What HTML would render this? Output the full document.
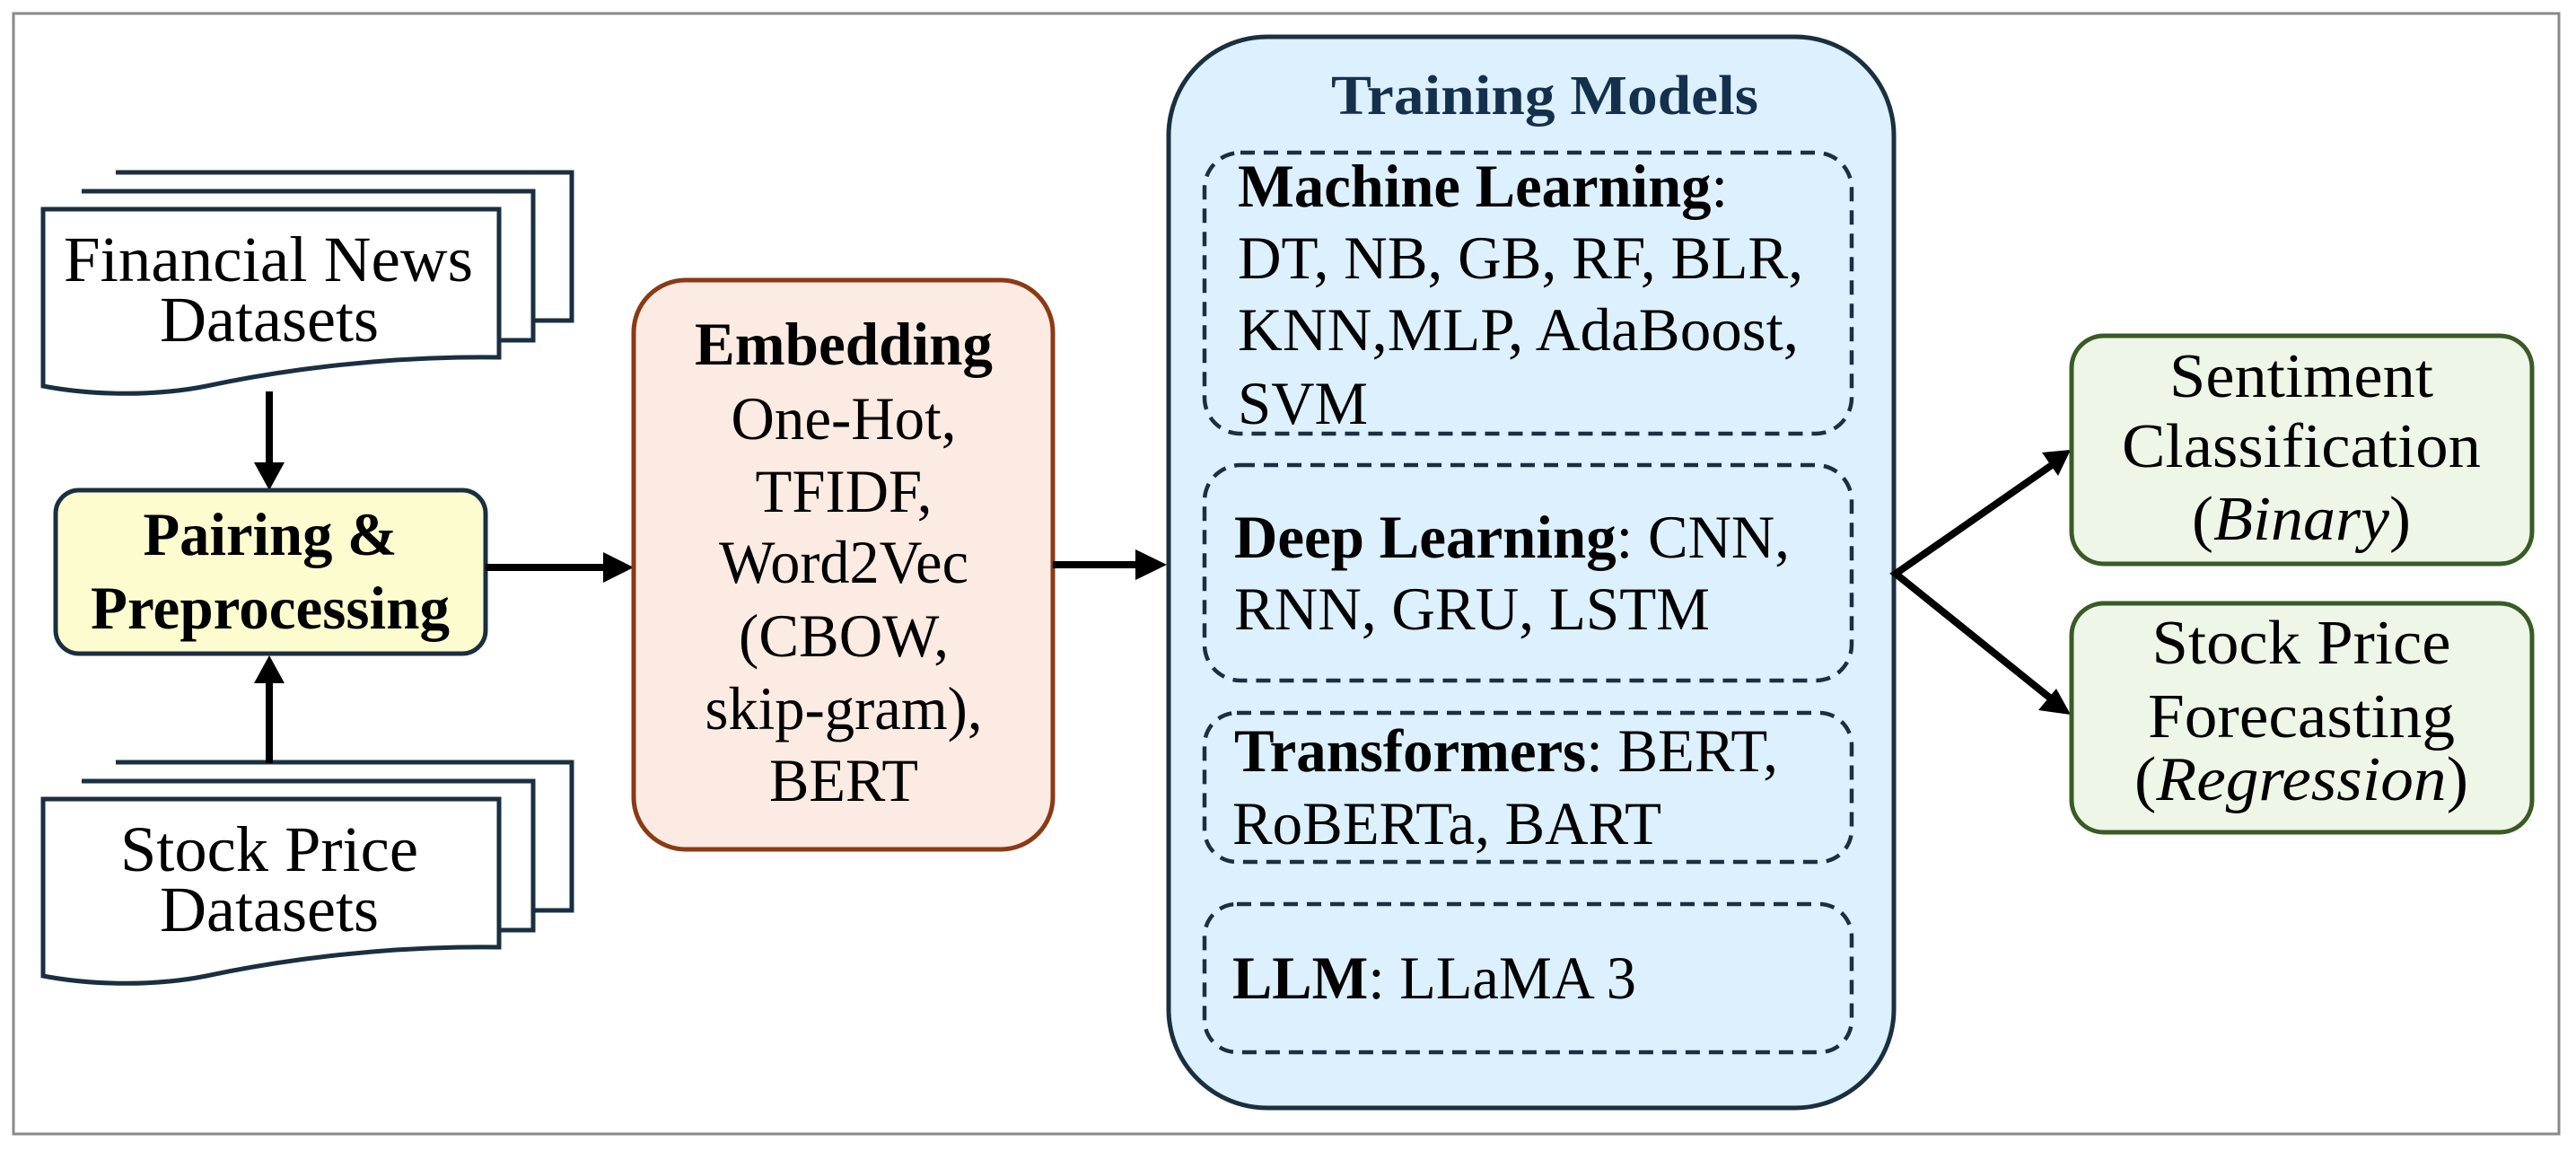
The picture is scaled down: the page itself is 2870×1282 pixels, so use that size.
<!DOCTYPE html>
<html><head><meta charset="utf-8"><style>
html,body{margin:0;padding:0;background:#fff;}
svg{display:block;}
text{font-family:"Liberation Serif",serif;fill:#000;}
</style></head><body>
<svg width="2870" height="1282" viewBox="0 0 2870 1282" xmlns="http://www.w3.org/2000/svg">
<rect x="15" y="15" width="2836" height="1248" fill="#fff" stroke="#8a8a8a" stroke-width="3"/>

<!-- Financial News docs -->
<g stroke="#1a2f40" stroke-width="5" fill="#fff">
<path d="M129 192 H637 V357 H594"/>
<path d="M91 213 H594 V379 H556"/>
<path d="M48 233 H556 V398 C420 396 300 415 230 430 C170 442 100 440 48 430 Z"/>
</g>
<text x="299" y="313" font-size="72" text-anchor="middle" textLength="456" lengthAdjust="spacingAndGlyphs">Financial News</text>
<text x="300" y="380" font-size="72" text-anchor="middle" textLength="244" lengthAdjust="spacingAndGlyphs">Datasets</text>

<!-- Stock Price docs -->
<g stroke="#1a2f40" stroke-width="5" fill="#fff" transform="translate(0,657)">
<path d="M129 192 H637 V357 H594"/>
<path d="M91 213 H594 V379 H556"/>
<path d="M48 233 H556 V398 C420 396 300 415 230 430 C170 442 100 440 48 430 Z"/>
</g>
<text x="300" y="970" font-size="72" text-anchor="middle" textLength="332" lengthAdjust="spacingAndGlyphs">Stock Price</text>
<text x="300" y="1037" font-size="72" text-anchor="middle" textLength="244" lengthAdjust="spacingAndGlyphs">Datasets</text>

<!-- vertical arrows -->
<line x1="300" y1="436" x2="300" y2="518" stroke="#000" stroke-width="8"/>
<polygon points="283,515 317,515 300,546" fill="#000"/>
<line x1="300" y1="850" x2="300" y2="758" stroke="#000" stroke-width="8"/>
<polygon points="283,761 317,761 300,730" fill="#000"/>

<!-- Pairing -->
<rect x="62" y="546" width="479" height="182" rx="26" fill="#fdfccf" stroke="#1a2f40" stroke-width="5"/>
<text x="301" y="618" font-size="68" font-weight="bold" text-anchor="middle" textLength="283" lengthAdjust="spacingAndGlyphs">Pairing &amp;</text>
<text x="301" y="700" font-size="68" font-weight="bold" text-anchor="middle" textLength="400" lengthAdjust="spacingAndGlyphs">Preprocessing</text>

<!-- arrow pairing -> embedding -->
<line x1="541" y1="632" x2="676" y2="632" stroke="#000" stroke-width="8"/>
<polygon points="672,615 672,649 706,632" fill="#000"/>

<!-- Embedding -->
<rect x="706" y="312" width="467" height="634" rx="58" fill="#fbebe2" stroke="#8a3a14" stroke-width="5"/>
<text x="940" y="406" font-size="68" font-weight="bold" text-anchor="middle" textLength="332" lengthAdjust="spacingAndGlyphs">Embedding</text>
<text x="940" y="489" font-size="68" text-anchor="middle" textLength="251" lengthAdjust="spacingAndGlyphs">One-Hot,</text>
<text x="940" y="570" font-size="68" text-anchor="middle" textLength="197" lengthAdjust="spacingAndGlyphs">TFIDF,</text>
<text x="940" y="649" font-size="68" text-anchor="middle" textLength="278" lengthAdjust="spacingAndGlyphs">Word2Vec</text>
<text x="940" y="731" font-size="68" text-anchor="middle" textLength="234" lengthAdjust="spacingAndGlyphs">(CBOW,</text>
<text x="940" y="812" font-size="68" text-anchor="middle" textLength="309" lengthAdjust="spacingAndGlyphs">skip-gram),</text>
<text x="940" y="892" font-size="68" text-anchor="middle" textLength="166" lengthAdjust="spacingAndGlyphs">BERT</text>

<!-- arrow embedding -> training -->
<line x1="1173" y1="629" x2="1268" y2="629" stroke="#000" stroke-width="8"/>
<polygon points="1265,612 1265,646 1300,629" fill="#000"/>

<!-- Training Models -->
<rect x="1302" y="41" width="808" height="1193" rx="110" fill="#dcf0fd" stroke="#1a2f40" stroke-width="5"/>
<text x="1721" y="127" font-size="62" font-weight="bold" text-anchor="middle" style="fill:#14304d" textLength="476" lengthAdjust="spacingAndGlyphs">Training Models</text>

<g fill="none" stroke="#1a2f40" stroke-width="4.5" stroke-dasharray="16 10">
<rect x="1342" y="170" width="721" height="313" rx="40"/>
<rect x="1342" y="518" width="721" height="240" rx="40"/>
<rect x="1342" y="794" width="721" height="166" rx="36"/>
<rect x="1342" y="1007" width="721" height="165" rx="36"/>
</g>

<text x="1379" y="230" font-size="68" textLength="546" lengthAdjust="spacingAndGlyphs"><tspan font-weight="bold">Machine Learning</tspan>:</text>
<text x="1379" y="310" font-size="68" textLength="630" lengthAdjust="spacingAndGlyphs">DT, NB, GB, RF, BLR,</text>
<text x="1379" y="390" font-size="68" textLength="625" lengthAdjust="spacingAndGlyphs">KNN,MLP,  AdaBoost,</text>
<text x="1379" y="472" font-size="68" textLength="145" lengthAdjust="spacingAndGlyphs">SVM</text>

<text x="1375" y="621" font-size="68" textLength="619" lengthAdjust="spacingAndGlyphs"><tspan font-weight="bold">Deep Learning</tspan>: CNN,</text>
<text x="1375" y="701" font-size="68" textLength="530" lengthAdjust="spacingAndGlyphs">RNN, GRU, LSTM</text>

<text x="1375" y="859" font-size="68" textLength="606" lengthAdjust="spacingAndGlyphs"><tspan font-weight="bold">Transformers</tspan>: BERT,</text>
<text x="1373" y="940" font-size="68" textLength="478" lengthAdjust="spacingAndGlyphs">RoBERTa, BART</text>

<text x="1373" y="1112" font-size="68" textLength="450" lengthAdjust="spacingAndGlyphs"><tspan font-weight="bold">LLM</tspan>: LLaMA 3</text>

<!-- branching arrows -->
<g stroke="#000" stroke-width="8" fill="none" stroke-linejoin="miter">
<polyline points="2286,518 2112,639 2286,779"/>
</g>
<polygon points="2307,501 2275,504 2293,530" fill="#000"/>
<polygon points="2307,796 2291,767 2271,791" fill="#000"/>

<!-- Outputs -->
<rect x="2308" y="374" width="513" height="254" rx="36" fill="#edf6e7" stroke="#3a5a26" stroke-width="5"/>
<text x="2564" y="442" font-size="70" text-anchor="middle" textLength="294" lengthAdjust="spacingAndGlyphs">Sentiment</text>
<text x="2564" y="520" font-size="70" text-anchor="middle" textLength="400" lengthAdjust="spacingAndGlyphs">Classification</text>
<text x="2564" y="601" font-size="70" text-anchor="middle" textLength="244" lengthAdjust="spacingAndGlyphs">(<tspan font-style="italic">Binary</tspan>)</text>

<rect x="2308" y="672" width="513" height="255" rx="36" fill="#edf6e7" stroke="#3a5a26" stroke-width="5"/>
<text x="2564" y="739" font-size="70" text-anchor="middle" textLength="333" lengthAdjust="spacingAndGlyphs">Stock Price</text>
<text x="2564" y="821" font-size="70" text-anchor="middle" textLength="342" lengthAdjust="spacingAndGlyphs">Forecasting</text>
<text x="2564" y="891" font-size="70" text-anchor="middle" textLength="372" lengthAdjust="spacingAndGlyphs">(<tspan font-style="italic">Regression</tspan>)</text>
</svg>
</body></html>
